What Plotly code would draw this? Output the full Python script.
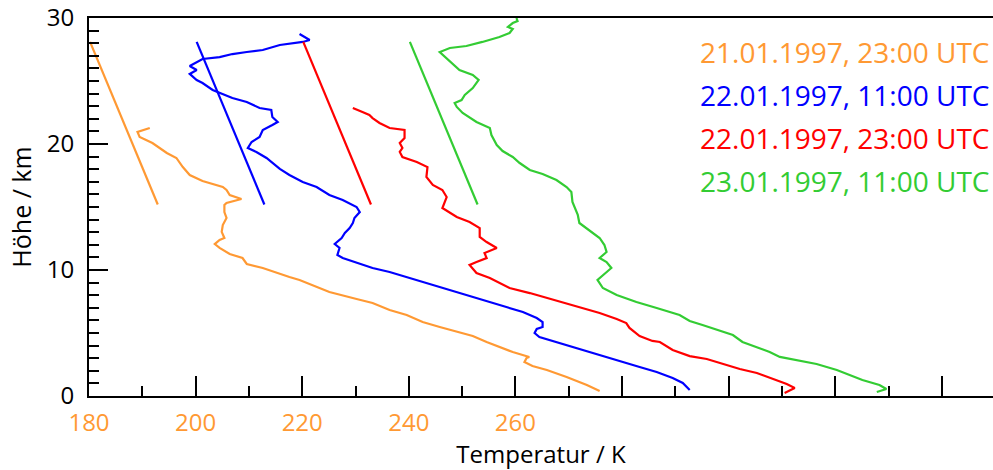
import plotly.graph_objects as go

# --- data (temperatures in K, altitude in km) ---
offsets = [0, 20, 40, 60]  # display offset of each profile, K
labels = ["21.01.1997, 23:00 UTC", "22.01.1997, 11:00 UTC",
          "22.01.1997, 23:00 UTC", "23.01.1997, 11:00 UTC"]
colors = ["#FF9933", "#0000FF", "#FF0000", "#33CC33"]

t_orange = [275.8, 273.4, 269.6, 265.9, 263.2, 261.7, 262.1, 262.6, 259.5, 257.0,
            254.6, 252.0, 249.0, 245.8, 242.6, 239.6, 236.4, 233.2, 230.2, 225.1,
            219.5, 217.6, 212.6, 209.6, 208.8, 206.4, 204.5, 203.6, 204.5, 205.4,
            204.9, 205.1, 205.8, 205.4, 205.4, 205.8, 208.6, 206.4, 205.8, 205.1,
            201.3, 198.9, 197.6, 196.4, 194.6, 191.9, 189.5, 189.1, 191.4]
z_orange = [0.40, 0.87, 1.51, 2.06, 2.38, 2.70, 3.02, 3.10, 3.49, 3.89,
            4.29, 4.76, 5.08, 5.48, 5.87, 6.43, 6.83, 7.38, 7.70, 8.25,
            9.21, 9.44, 10.16, 10.48, 10.95, 11.27, 11.75, 12.06, 12.38, 12.54,
            13.02, 13.57, 14.13, 14.60, 15.16, 15.32, 15.63, 15.95, 16.35, 16.59,
            17.06, 17.54, 18.17, 18.89, 19.29, 20.08, 20.56, 20.95, 21.27]

t_blue = [272.7, 271.4, 269.5, 266.5, 263.3, 260.1, 257.1, 253.9, 250.7, 247.7,
          244.5, 243.6, 244.0, 245.1, 245.1, 244.0, 241.4, 238.3, 235.2, 232.0,
          229.0, 225.8, 222.6, 219.6, 216.4, 213.2, 210.2, 207.6, 206.6, 207.0,
          206.1, 207.4, 208.0, 208.9, 209.5, 209.8, 210.8, 210.2, 207.6, 205.1,
          202.7, 200.1, 197.6, 195.8, 193.3, 191.4, 189.8, 190.5, 192.0, 192.6,
          194.4, 195.4, 194.4, 194.2, 192.0, 189.6, 186.9, 185.1, 183.2, 181.3,
          180.2, 178.9, 180.2, 178.9, 180.2, 181.3, 184.5, 186.9, 189.6, 192.6,
          195.8, 200.1, 201.4, 199.5]
z_blue = [0.48, 1.03, 1.43, 1.90, 2.30, 2.70, 3.10, 3.49, 3.89, 4.29,
          4.68, 5.00, 5.32, 5.48, 5.87, 6.19, 6.67, 7.06, 7.46, 7.86,
          8.25, 8.65, 9.05, 9.44, 9.84, 10.16, 10.56, 10.95, 11.19, 11.75,
          12.06, 12.54, 12.94, 13.33, 13.73, 14.13, 14.60, 15.00, 15.56, 15.95,
          16.59, 16.98, 17.54, 18.02, 18.89, 19.37, 19.68, 20.16, 20.56, 21.11,
          21.51, 21.75, 22.14, 22.70, 22.86, 23.33, 23.65, 23.97, 24.29, 24.84,
          25.08, 25.56, 25.87, 26.19, 26.51, 26.75, 26.90, 27.14, 27.30, 27.46,
          27.86, 28.10, 28.25, 28.73]

t_red = [270.5, 272.4, 270.9, 268.3, 265.3, 262.1, 258.9, 255.9, 252.7, 249.5,
         247.1, 245.7, 243.3, 241.4, 240.8, 239.0, 235.8, 232.6, 229.6, 226.4,
         222.7, 218.9, 217.0, 215.2, 212.7, 211.4, 212.7, 214.6, 214.2, 216.5,
         214.6, 213.3, 213.3, 211.4, 209.0, 206.3, 207.1, 206.3, 204.5, 203.3,
         203.5, 201.5, 198.8, 198.3, 198.8, 198.3, 199.2, 199.2, 196.4, 194.5,
         193.2, 192.6, 191.3, 189.5]
z_red = [0.24, 0.63, 0.95, 1.35, 1.83, 2.14, 2.54, 2.94, 3.17, 3.65,
         4.29, 4.37, 4.76, 5.40, 5.79, 6.11, 6.59, 6.98, 7.38, 7.78,
         8.17, 8.57, 8.97, 9.37, 9.76, 10.40, 10.63, 10.95, 11.35, 11.75,
         12.22, 12.62, 13.33, 13.81, 14.21, 14.92, 15.79, 16.35, 16.75, 17.38,
         18.17, 18.57, 18.97, 19.37, 19.68, 20.08, 20.48, 21.11, 21.27, 21.67,
         22.06, 22.30, 22.54, 22.86]

t_green = [267.8, 269.6, 268.3, 265.1, 262.7, 260.3, 256.5, 252.8, 249.6, 247.7,
           245.3, 242.6, 240.8, 237.7, 235.1, 232.7, 230.8, 226.5, 222.7, 219.0,
           216.4, 215.4, 216.4, 218.0, 217.1, 215.8, 217.1, 216.7, 215.8, 213.9,
           212.0, 211.7, 211.1, 210.7, 210.5, 209.6, 207.7, 205.1, 202.7, 200.8,
           199.5, 197.6, 196.5, 195.5, 195.2, 192.7, 190.1, 189.0, 188.6, 189.9,
           190.5, 192.0, 193.1, 192.0, 189.5, 188.0, 185.8, 187.7, 190.8, 193.8,
           197.0, 198.9, 199.5, 198.6, 199.5, 200.4, 200.2]
z_green = [0.32, 0.56, 0.87, 1.27, 1.67, 2.06, 2.54, 2.86, 3.10, 3.49,
           3.89, 4.29, 4.84, 5.24, 5.63, 5.95, 6.43, 6.98, 7.46, 8.02,
           8.57, 9.21, 9.60, 10.16, 10.63, 10.95, 11.43, 11.98, 12.54, 13.17,
           13.73, 14.37, 15.00, 15.40, 16.19, 16.59, 17.14, 17.62, 17.94, 18.49,
           18.97, 19.44, 19.92, 20.71, 21.27, 21.75, 22.46, 22.94, 23.25, 23.49,
           23.89, 24.44, 25.08, 25.48, 25.87, 26.43, 27.30, 27.62, 27.78, 28.10,
           28.49, 28.81, 29.13, 29.29, 29.60, 29.76, 30.0]

# threshold line drawn next to each profile
t_line = [180.2, 192.9]
z_line = [28.1, 15.2]

x_tickvals = [180, 200, 220, 240, 260, 280, 300, 320, 340]
x_ticktext = ["180", "200", "220", "240", "260", "", "", "", ""]
x_minor = [190, 210, 230, 250, 270, 290, 310, 330]
y_tickvals = [0, 10, 20, 30]

profiles = [(t_orange, z_orange), (t_blue, z_blue), (t_red, z_red), (t_green, z_green)]

FONT = "Open Sans"

fig = go.Figure()
for (tt, zz), off, col in zip(profiles, offsets, colors):
    fig.add_trace(go.Scatter(x=[t + off for t in tt], y=zz, mode="lines",
                             line=dict(color=col, width=2.2), hoverinfo="skip"))
    fig.add_trace(go.Scatter(x=[t + off for t in t_line], y=z_line, mode="lines",
                             line=dict(color=col, width=2.2), hoverinfo="skip"))

# label rows, placed in pixel terms of the 378 px tall plot area
for i, (lab, col) in enumerate(zip(labels, colors)):
    fig.add_annotation(text=lab, xref="paper", yref="paper",
                       x=0.674, y=(396 - 52 - 43 * i) / 378,
                       xanchor="left", yanchor="middle", showarrow=False,
                       font=dict(family=FONT, size=28, color=col))

fig.update_layout(
    width=993, height=470,
    margin=dict(l=89, r=0, t=18, b=74, autoexpand=False),
    plot_bgcolor="white", paper_bgcolor="white",
    showlegend=False,
    font=dict(family=FONT, color="black"),
    xaxis=dict(range=[180, 349.6], showgrid=False, zeroline=False, automargin=False,
               showline=True, linecolor="black", linewidth=2, mirror=True,
               ticks="inside", ticklen=20, tickwidth=2, tickcolor="black",
               tickmode="array", tickvals=x_tickvals, ticktext=x_ticktext,
               tickfont=dict(family=FONT, size=24, color="#FF9933"),
               ticklabelstandoff=4,
               minor=dict(tickmode="array", tickvals=x_minor, ticks="inside",
                          ticklen=10, tickwidth=2, tickcolor="black"),
               title=dict(text="Temperatur / K", standoff=4,
                          font=dict(family=FONT, size=24, color="black"))),
    yaxis=dict(range=[0, 30], showgrid=False, zeroline=False, automargin=False,
               showline=True, linecolor="black", linewidth=2,
               ticks="inside", ticklen=19, tickwidth=2, tickcolor="black",
               tickmode="array", tickvals=y_tickvals,
               tickfont=dict(family=FONT, size=24, color="black"),
               ticklabelstandoff=8,
               minor=dict(dtick=1, ticks="inside", ticklen=10, tickwidth=2,
                          tickcolor="black"),
               title=dict(text="Höhe / km", standoff=8,
                          font=dict(family=FONT, size=25, color="black"))),
)

fig.write_html("out.html", config={"displayModeBar": False},
               post_script="document.body.style.margin='0';document.body.style.overflow='hidden';")
